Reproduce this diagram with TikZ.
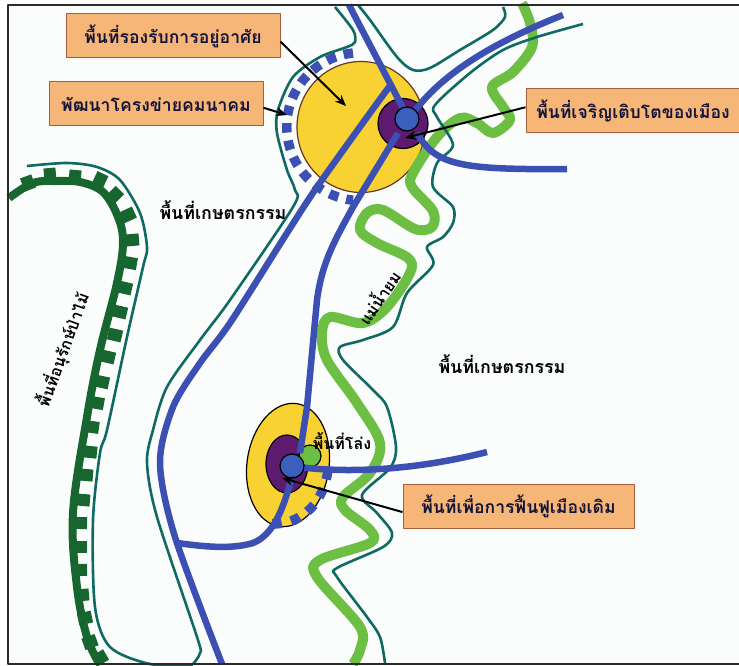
\documentclass[tikz,border=0pt]{standalone}
\usepackage{fontspec}
\newfontfamily\thaifont[Script=Thai]{Loma}
\usetikzlibrary{arrows.meta, positioning}
\definecolor{mpaper}{HTML}{FBFDFD}
\definecolor{mframe}{HTML}{2A2A2A}
\definecolor{mroad}{HTML}{3C50B4}
\definecolor{mhub}{HTML}{3A60BC}
\definecolor{mriver}{HTML}{6CBF42}
\definecolor{medge}{HTML}{0F6A62}
\definecolor{mforest}{HTML}{17662F}
\definecolor{mhouse}{HTML}{F8D233}
\definecolor{mcore}{HTML}{5E1A6E}
\definecolor{mlabel}{HTML}{F6B678}
\definecolor{mlabeldraw}{HTML}{A5603A}
\definecolor{mink}{HTML}{14143A}
\tikzset{
  lbox/.style={draw=mlabeldraw, fill=mlabel, line width=1pt, text=mink,
               font=\thaifont\bfseries\fontsize{17.6}{20}\selectfont, inner sep=0pt},
  maptext/.style={text=black, font=\thaifont\bfseries\fontsize{16}{20}\selectfont, inner sep=0pt},
  farmtext/.style={text=black, font=\thaifont\bfseries\fontsize{17.8}{20}\selectfont, inner sep=0pt},
  roadline/.style={draw=mroad, line width=6.5pt},
  roaddash/.style={draw=mroad, line width=9.5pt},
  riverline/.style={draw=mriver, line width=10pt, line join=round},
  edgeline/.style={draw=medge, line width=2.6pt, line join=round},
  arr/.style={-{Stealth[length=11pt,width=9pt]}, line width=2pt, black},
}

\begin{document}
\begin{tikzpicture}[x=1pt, y=-1pt, line join=round]
  \useasboundingbox (0,0) rectangle (739,666);
  \fill[white] (0,0) rectangle (739,666);
  \fill[mpaper] (8,5) rectangle (739,664);

  % Housing zones
  \filldraw[fill=mhouse, draw=mlabeldraw!60!black, line width=1.2pt] (361,127) ellipse (64 and 65.5);
  \filldraw[fill=mhouse, draw=black, line width=1.2pt, rotate around={-8:(288,465)}] (288,465) ellipse (41 and 62);
  \filldraw[fill=mcore, draw=black, line width=1.2pt] (403,123.5) circle (25);
  \filldraw[fill=mcore, draw=black, line width=1.2pt] (287,464) ellipse (21 and 29);
  \filldraw[fill=mriver, draw=black, line width=1.2pt] (310,456) circle (11);

  % River
  \draw[riverline] plot[smooth, tension=0.55] coordinates {(522,3) (530,23) (532,47) (513,72) (492,87) (503,107) (510,120) (493,133) (477,123) (460,118) (437,137) (413,173) (412,187) (433,211) (432,227) (415,229) (383,210) (367,213) (360,230) (377,243) (408,258) (410,273) (387,307) (363,323) (330,317) (322,333) (327,360) (357,403) (380,443) (370,473) (343,497) (345,510) (370,530) (370,543) (320,560) (317,577) (360,627) (360,650) (353,664)};

  % Green edges
  \draw[edgeline] plot[smooth, tension=0.5] coordinates {(335,7) (353,30) (355,42) (347,47) (320,57) (293,77) (278,110) (277,133) (287,170) (295,190) (293,207) (230,300) (200,340) (167,387) (153,430) (147,463) (157,517) (197,637) (200,653) (193,664)};
  \draw[edgeline] plot[smooth, tension=0.5] coordinates {(27,166) (67,163) (97,167) (120,180) (140,213) (147,247) (143,267) (127,337) (107,430) (100,453) (93,520) (95,607) (110,647) (150,664) (193,665)};
  \draw[edgeline] plot[smooth, tension=0.5] coordinates {(358,5) (370,20) (397,57) (413,70) (430,68) (460,50) (493,30) (505,17) (503,7)};
  \draw[edgeline] plot[smooth, tension=0.5] coordinates {(583,24) (537,37) (503,50) (470,73) (435,105) (437,117) (453,145) (437,163) (433,187) (453,207) (453,223) (443,237) (427,247) (433,265) (407,293) (393,327) (363,340) (340,347) (343,360) (373,390) (387,407) (396,447) (390,468) (362,495) (377,513) (392,533) (383,547) (337,568) (337,577) (367,617) (380,637) (385,663)};

  % Forest belt
  \draw[mforest, line width=8pt] plot[smooth, tension=0.6] coordinates {(9,198) (33,183) (57,181) (80,182) (103,192) (118,217) (123,243) (117,283) (100,350) (87,417) (73,513) (77,587) (87,637) (99,663)};
  \foreach \x/\y/\a in {28/183/20, 50/175/5, 75/177/-5, 100/180/-25, 115/195/-45, 128/215/-65, 132/240/-85, 130/263/-100, 125/288/-103, 120/312/-103, 115/335/-103, 108/357/-103, 102/382/-102, 97/403/-100, 92/427/-98, 90/452/-96, 86/475/-95, 83/500/-95, 80/523/-92, 80/547/-90, 80/570/-88, 82/595/-85, 85/618/-78, 90/642/-70, 100/658/-60}
    \fill[mforest, rotate around={\a:(\x,\y)}] (\x-6,\y-7) rectangle (\x+6,\y+7);

  % Roads
  \draw[roadline] (349,5) -- (405,112);
  \draw[roadline] (563,15) .. controls (500,40) and (445,70) .. (414,112);
  \draw[roadline] (417,133) .. controls (435,165) and (460,170) .. (567,169);
  \draw[roadline] (398,133) -- (353,207) .. controls (335,240) and (322,262) .. (317,300) -- (307,407) -- (300,453);
  \draw[roadline] plot[smooth, tension=0.5] coordinates {(392,83) (370,113) (317,187) (287,233) (230,323) (200,363) (173,407) (160,463) (175,537) (222,664)};
  \draw[roadline] (177,543) .. controls (200,546) and (230,550) .. (253,543) .. controls (273,535) and (283,510) .. (291,480);
  \draw[roadline] (292,466) .. controls (330,472) and (400,474) .. (487,452);
  \draw[roaddash, dash pattern=on 9.5pt off 8pt] (353,53) arc[start angle=264, end angle=96, radius=74];
  \draw[roaddash, dash pattern=on 9.5pt off 9.5pt] (328,470) .. controls (324,500) and (305,524) .. (272,524);

  % City centres
  \filldraw[fill=mhub, draw=black, line width=1.2pt] (407,119) circle (12);
  \filldraw[fill=mhub, draw=black, line width=1.2pt] (292,466) circle (12);

  % Labels on the map
  \node[farmtext] (farmnorth) at (223,210) {พื้นที่เกษตรกรรม};
  \node[farmtext] (farmsouth) at (502,364) {พื้นที่เกษตรกรรม};
  \node[maptext] (openland) at (342,441) {พื้นที่โล่ง};
  \node[maptext, rotate=70] (forestzone) at (63,350) {พื้นที่อนุรักษ์ป่าไม้};
  \node[maptext, rotate=56] (rivername) at (378,297) {แม่น้ำยม};

  % Boxes
  \node[lbox, minimum width=214pt, minimum height=44pt] (boxhouse) at (173,36) {พื้นที่รองรับการอยู่อาศัย};
  \node[lbox, minimum width=214pt, minimum height=44pt] (boxroad) at (156,104) {พัฒนาโครงข่ายคมนาคม};
  \node[lbox, minimum width=214pt, minimum height=44pt] (boxgrow) at (633,111) {พื้นที่เจริญเติบโตของเมือง};
  \node[lbox, minimum width=231pt, minimum height=44pt] (boxold) at (518.5,506) {พื้นที่เพื่อการฟื้นฟูเมืองเดิม};

  \coordinate (housetip) at (346,106);
  \coordinate (roadtip) at (287,115);
  \coordinate (growtip) at (405,138);
  \coordinate (oldtip) at (282,478);
  \draw[arr] (boxhouse.-3) -- (housetip);
  \draw[arr] (boxroad.-2) -- (roadtip);
  \draw[arr] (boxgrow.178) -- (growtip);
  \draw[arr] (boxold.183) -- (oldtip);

  % Frame
  \draw[mframe, line width=2.5pt] (739,5) -- (8,5) -- (8,664) -- (739,664);
\end{tikzpicture}
\end{document}
